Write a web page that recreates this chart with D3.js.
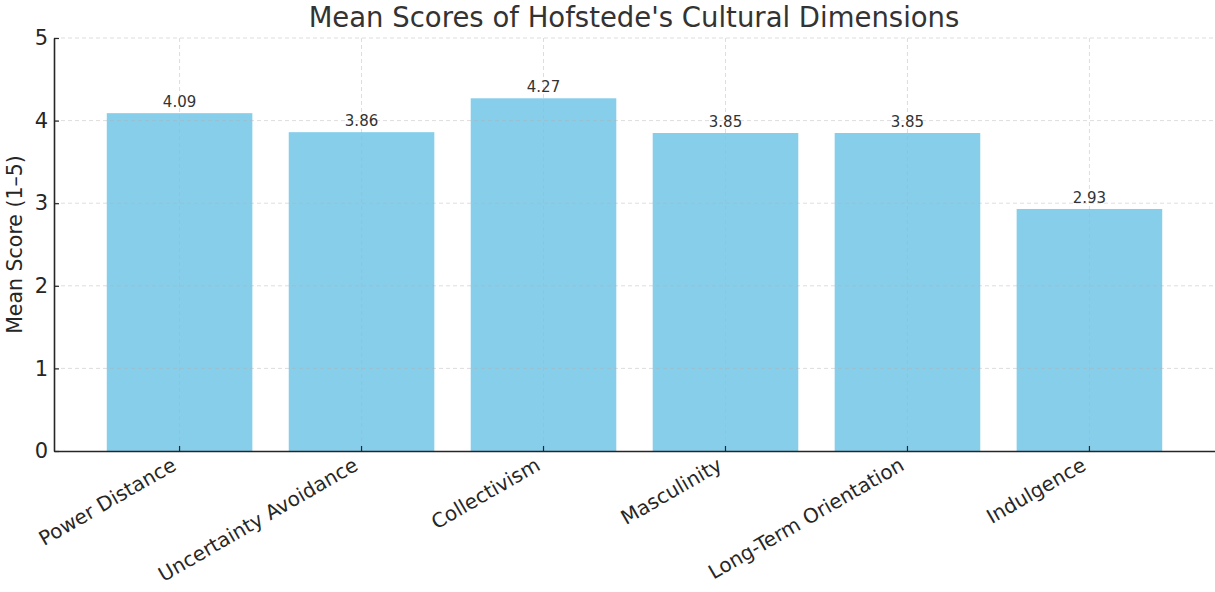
<!DOCTYPE html>
<html>
<head>
<meta charset="utf-8">
<script src="https://cdn.jsdelivr.net/npm/d3@7"></script>
<style>
  html, body { margin: 0; padding: 0; background: #fff; }
  svg { display: block; font-family: "DejaVu Sans", sans-serif; }
</style>
</head>
<body>
<svg id="chart" width="1215" height="592"></svg>
<script>
// Hofstede dimension means on a 1–5 scale
const categories = ["Power Distance", "Uncertainty Avoidance", "Collectivism", "Masculinity", "Long-Term Orientation", "Indulgence"];
const meanScores = [4.09, 3.86, 4.27, 3.85, 3.85, 2.93];
const yTicks = [0, 1, 2, 3, 4, 5];

const svg = d3.select("#chart");
const W = 1215, H = 592;
const m = { left: 54, right: 0, top: 38, bottom: 141 };

const x = d3.scaleBand()
  .domain(categories)
  .range([m.left, W - m.right])
  .paddingInner(0.2)
  .paddingOuter(0.29);

const y = d3.scaleLinear().domain([0, 5]).range([H - m.bottom, m.top]);

// bars
svg.append("g").selectAll("rect")
  .data(categories)
  .join("rect")
  .attr("x", d => x(d))
  .attr("width", x.bandwidth())
  .attr("y", (d, i) => y(meanScores[i]))
  .attr("height", (d, i) => y(0) - y(meanScores[i]))
  .attr("fill", "#87CEEB");

// dashed grid over the bars
const grid = svg.append("g").attr("stroke", "#b0b0b0").attr("stroke-opacity", 0.55)
  .attr("stroke-dasharray", "4,3").attr("stroke-width", 0.8);
grid.selectAll("line.h").data(yTicks.filter(t => t > 0)).join("line")
  .attr("x1", m.left).attr("x2", W)
  .attr("y1", d => y(d)).attr("y2", d => y(d));
grid.selectAll("line.v").data(categories).join("line")
  .attr("x1", d => x(d) + x.bandwidth() / 2).attr("x2", d => x(d) + x.bandwidth() / 2)
  .attr("y1", m.top).attr("y2", y(0));

// y axis
const yAxis = svg.append("g")
  .attr("transform", `translate(${m.left},0)`)
  .call(d3.axisLeft(y).tickValues(yTicks).tickFormat(d3.format("d")).tickSizeInner(-5).tickSizeOuter(0).tickPadding(6));
yAxis.select(".domain").attr("stroke", "#262626").attr("stroke-width", 1.6);
yAxis.selectAll(".tick line").attr("stroke", "#262626").attr("stroke-width", 1.2);
yAxis.selectAll(".tick text").attr("font-size", 21).attr("fill", "#262626")
  .attr("font-family", "DejaVu Sans, sans-serif");

// x axis
const xAxis = svg.append("g")
  .attr("transform", `translate(0,${y(0)})`)
  .call(d3.axisBottom(x).tickSizeInner(-5).tickSizeOuter(0).tickPadding(0));
xAxis.select(".domain").attr("stroke", "#262626").attr("stroke-width", 1.6);
xAxis.selectAll(".tick line").attr("stroke", "#262626").attr("stroke-width", 1.2);
xAxis.selectAll(".tick text")
  .attr("font-size", 20).attr("fill", "#262626")
  .attr("font-family", "DejaVu Sans, sans-serif")
  .attr("text-anchor", "end")
  .attr("dy", null)
  .attr("y", 0)
  .attr("transform", "translate(-2,18) rotate(-30)");

// value labels
svg.append("g").selectAll("text")
  .data(categories)
  .join("text")
  .attr("x", d => x(d) + x.bandwidth() / 2)
  .attr("y", (d, i) => y(meanScores[i]) - 6)
  .attr("text-anchor", "middle")
  .attr("font-size", 15)
  .attr("fill", "#333")
  .text((d, i) => meanScores[i].toFixed(2));

// y axis title
svg.append("text")
  .attr("transform", `translate(22,${(y(0) + y(5)) / 2}) rotate(-90)`)
  .attr("text-anchor", "middle")
  .attr("font-size", 20.5)
  .attr("fill", "#262626")
  .text("Mean Score (1–5)");

// chart title
svg.append("text")
  .attr("x", 634)
  .attr("y", 27)
  .attr("text-anchor", "middle")
  .attr("font-size", 27.5)
  .attr("fill", "#333")
  .text("Mean Scores of Hofstede's Cultural Dimensions");
</script>
</body>
</html>
